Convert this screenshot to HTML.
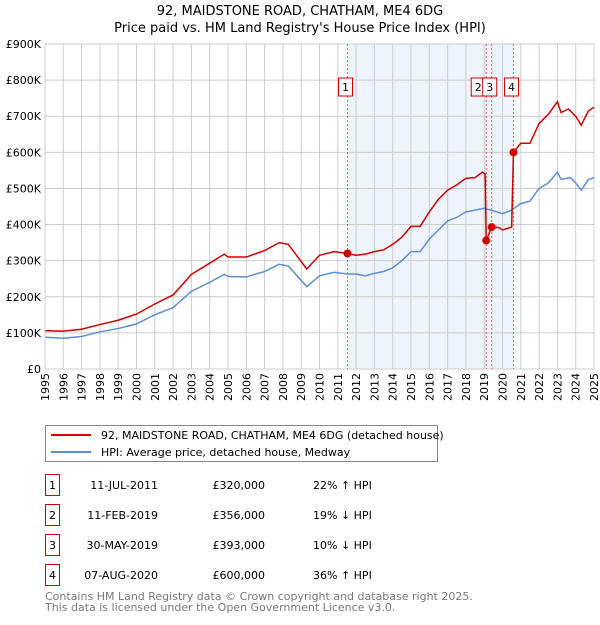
<!DOCTYPE html>
<html><head><meta charset="utf-8"><style>
body{margin:0;background:#fff;font-family:"Liberation Sans","DejaVu Sans",sans-serif;}
svg text{font-family:"DejaVu Sans","Liberation Sans",sans-serif;}
</style></head><body>
<svg id="chart" width="600" height="620" viewBox="0 0 600 620" xmlns="http://www.w3.org/2000/svg">
<text x="300" y="15" text-anchor="middle" font-size="13">92, MAIDSTONE ROAD, CHATHAM, ME4 6DG</text>
<text x="300" y="32" text-anchor="middle" font-size="13">Price paid vs. HM Land Registry's House Price Index (HPI)</text>
<g id="plot"></g>
<g>
<rect x="45.5" y="425.5" width="392" height="36" fill="#fff" stroke="#888"/>
<line x1="51" y1="435" x2="91" y2="435" stroke="#cc0000" stroke-width="2"/>
<text x="101" y="439" font-size="11">92, MAIDSTONE ROAD, CHATHAM, ME4 6DG (detached house)</text>
<line x1="51" y1="452" x2="91" y2="452" stroke="#5b8fd4" stroke-width="2"/>
<text x="101" y="456" font-size="11">HPI: Average price, detached house, Medway</text>
</g>
<g id="table"></g>
<text x="45" y="600" font-size="11" fill="#777">Contains HM Land Registry data © Crown copyright and database right 2025.</text>
<text x="45" y="611" font-size="11" fill="#777">This data is licensed under the Open Government Licence v3.0.</text>
</svg>
<script>
const hpiYears=[1995,1996,1997,1998,1999,2000,2001,2002,2003,2004,2004.8,2005,2006,2007,2007.8,2008.3,2009.3,2010,2010.8,2011.5,2012,2012.5,2013,2013.5,2014,2014.5,2015,2015.5,2016,2016.5,2017,2017.5,2018,2018.5,2019,2019.5,2020,2020.5,2021,2021.5,2022,2022.5,2023,2023.2,2023.7,2024,2024.3,2024.7,2025];
const hpiValues=[88,85,90,103,112,125,150,170,215,240,262,256,255,270,290,285,228,258,268,263,263,258,265,270,280,300,325,325,360,385,410,420,435,440,445,438,430,440,458,465,500,515,545,525,530,515,495,525,530];
const priceYears=[1995,1996,1997,1998,1999,2000,2001,2002,2003,2004,2004.8,2005,2006,2007,2007.8,2008.3,2009.3,2010,2010.8,2011.53,2012,2012.5,2013,2013.5,2014,2014.5,2015,2015.5,2016,2016.5,2017,2017.5,2018,2018.5,2018.9,2019.05,2019.11,2019.41,2019.8,2020,2020.5,2020.6,2021,2021.5,2022,2022.5,2023,2023.2,2023.6,2024,2024.3,2024.7,2025];
const priceValues=[106,105,110,123,135,152,180,205,262,293,318,310,310,328,350,345,277,315,325,320,315,318,325,330,345,365,395,395,435,470,495,510,528,530,545,540,356,393,392,385,393,600,625,625,680,705,740,710,720,700,675,715,725];
const saleLabels=["1","2","3","4"];
const saleYears=[2011.53,2019.11,2019.41,2020.6];
const saleValues=[320,356,393,600];
const saleDates=["11-JUL-2011","11-FEB-2019","30-MAY-2019","07-AUG-2020"];
const salePrices=["£320,000","£356,000","£393,000","£600,000"];
const saleHpi=["22% ↑ HPI","19% ↓ HPI","10% ↓ HPI","36% ↑ HPI"];
const yTicks=[0,100,200,300,400,500,600,700,800,900];
const yTickLabels=["£0","£100K","£200K","£300K","£400K","£500K","£600K","£700K","£800K","£900K"];
const NS="http://www.w3.org/2000/svg";
const X0=45,X1=594,Y0=369,Y1=44;
const xs=y=>X0+(y-1995)/30*(X1-X0);
const ys=v=>Y0-v/900*(Y0-Y1);
const plot=document.getElementById('plot');
function mk(tag,attrs,parent){const e=document.createElementNS(NS,tag);for(const k in attrs)e.setAttribute(k,attrs[k]);(parent||plot).appendChild(e);return e;}
const shade=mk('rect',{x:xs(saleYears[0]),y:Y1,width:xs(saleYears[3])-xs(saleYears[0]),height:Y0-Y1,fill:'#eef3fc'});


for(let yr=1995;yr<=2025;yr++){
 const g=mk('line',{x1:xs(yr),x2:xs(yr),y1:Y1,y2:Y0,stroke:'#ccc','stroke-width':1});
 
 
 const wrap=mk('g',{transform:'translate('+(xs(yr)+4)+','+(Y0+4)+') rotate(-90)'});
 const t=mk('text',{x:0,y:0,'font-size':11,'text-anchor':'end'},wrap);
 t.textContent=yr;
 
 
}
yTicks.forEach((v,i)=>{
 const g=mk('line',{x1:X0,x2:X1,y1:ys(v),y2:ys(v),stroke:'#ccc','stroke-width':1});
 
 
 const t=mk('text',{x:X0-4,y:ys(v)+4,'font-size':11,'text-anchor':'end'});
 t.textContent=yTickLabels[i];
 
 
});
saleYears.forEach(y=>{
 const l=mk('line',{x1:xs(y),x2:xs(y),y1:Y1,y2:Y0,stroke:'#e55','stroke-width':1,'stroke-dasharray':'2,2'});
 
 
});
const hp=mk('polyline',{points:hpiYears.map((y,i)=>xs(y)+','+ys(hpiValues[i])).join(' '),fill:'none',stroke:'#5b8fd4','stroke-width':1.5});


const pp=mk('polyline',{points:priceYears.map((y,i)=>xs(y)+','+ys(priceValues[i])).join(' '),fill:'none',stroke:'#cc0000','stroke-width':1.5});


saleYears.forEach((y,i)=>{
 const c=mk('circle',{cx:xs(y),cy:ys(saleValues[i]),r:4,fill:'#cc0000'});
 
 
 const bx=i===1?xs(y)-11:xs(y)-9;
 const r=mk('rect',{x:bx-(i===1?4:0),y:78,width:14,height:18,fill:'#fff',stroke:'#cc0000'});
 
 
 const t=mk('text',{x:bx+7-(i===1?4:0),y:91,'font-size':11,'text-anchor':'middle'});
 t.textContent=saleLabels[i];
 
 
});
mk('line',{x1:X0,x2:X0,y1:Y1,y2:Y0,stroke:'#ccc'});
const tb=document.getElementById('table');
const rowY=[483,513,543,573];
saleLabels.forEach((s,i)=>{
 const y=rowY[i];
 const r=mk('rect',{x:45.5,y:y-8.5,width:14,height:21,fill:'#fff',stroke:'#cc0000'},tb);
 
 
 const vals=[[52.5,s,'middle'],[158,saleDates[i],'end'],[265,salePrices[i],'end'],[313,saleHpi[i],'start']];
 vals.forEach(v=>{const t=mk('text',{x:v[0],y:y+6,'font-size':11,'text-anchor':v[2]},tb);t.textContent=v[1];
 
 });
});
</script>
</body></html>
